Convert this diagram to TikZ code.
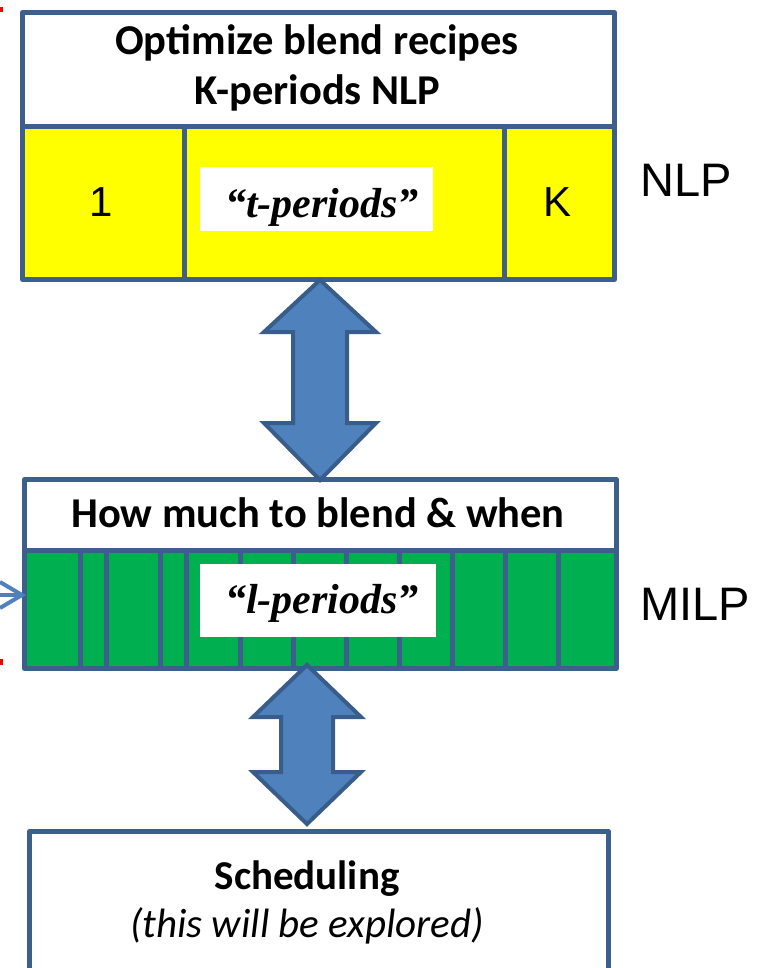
\documentclass[tikz,border=0pt]{standalone}
\usepackage{fontspec}
\setmainfont{Carlito}
\newfontfamily\arialf{Liberation Sans}
\newfontfamily\timesf{Liberation Serif}
\usetikzlibrary{arrows.meta,calc}
\definecolor{bord}{HTML}{3C5F8C}
\definecolor{afill}{HTML}{4F81BD}
\definecolor{aline}{HTML}{385D8A}
\definecolor{ylw}{HTML}{FFFF00}
\definecolor{grn}{HTML}{00B050}
\begin{document}
\begin{tikzpicture}[x=1pt,y=1pt,
  boxline/.style={draw=bord,line width=5pt,line join=round},
  bigarrow/.style={draw=aline,fill=afill,line width=4pt,line join=miter},
  hdr/.style={font=\fontsize{42.5}{50}\selectfont\bfseries,anchor=base,inner sep=0pt},
  arl/.style={font=\arialf\fontsize{42}{48}\selectfont,anchor=base,inner sep=0pt},
  side/.style={font=\arialf\fontsize{47}{52}\selectfont,anchor=base west,inner sep=0pt},
  tlabel/.style={fill=white,inner sep=0pt},
  tper/.style={font=\timesf\fontsize{42}{48}\selectfont\bfseries\itshape,anchor=base,inner sep=0pt}]
\useasboundingbox (0,0) rectangle (766,-968);
% ---------- top box (NLP)
\node[boxline,fill=white,minimum width=592,minimum height=114,inner sep=0pt,anchor=north west] (tophead) at (20,-10) {};
\node[boxline,fill=ylw,minimum width=592,minimum height=153,inner sep=0pt,anchor=north west] (topstrip) at (20,-124) {};
\draw[boxline] (184,-124) -- (184,-277);
\draw[boxline] (504,-124) -- (504,-277);
\node[hdr] (t1a) at (317,-55) {Optimize blend recipes};
\node[hdr] (t1b) at (317,-105) {K-periods NLP};
\node[arl] (one) at (101,-217) {1};
\node[arl] (kk) at (557,-217) {K};
\node[tlabel,minimum width=233,minimum height=64] (tbox) at (316,-199) {};
\node[tper] (tt) at (322,-218) {“t-periods”};
\node[side] (nlp) at (640,-197) {NLP};
% ---------- middle box (MILP)
\node[boxline,fill=white,minimum width=592,minimum height=71,inner sep=0pt,anchor=north west] (midhead) at (22,-477) {};
\node[boxline,fill=grn,minimum width=592,minimum height=118,inner sep=0pt,anchor=north west] (midstrip) at (22,-548) {};
\foreach \xx in {80,106,160,186,240,293,346,399,452,505,558}
  \draw[boxline] (\xx,-548) -- (\xx,-666);
\node[hdr] (t2) at (318,-527) {How much to blend \& when};
\node[tlabel,minimum width=236,minimum height=73] (lbox) at (318,-600) {};
\node[tper] (ll) at (322,-613) {“l-periods”};
\node[side] (milp) at (640,-620) {MILP};
% ---------- bottom box
\node[boxline,fill=white,minimum width=579,minimum height=160,inner sep=0pt,anchor=north west] (sched) at (27,-829) {};
\node[font=\fontsize{41}{48}\selectfont\bfseries,anchor=base,inner sep=0pt] (s1) at (307,-889) {Scheduling};
\node[font=\fontsize{41}{48}\selectfont\itshape,anchor=base,inner sep=0pt] (s2) at (307,-937) {(this will be explored)};
% ---------- double arrows
\draw[bigarrow] (320,-280) -- (376,-332) -- (347,-332) -- (347,-423) -- (376,-423)
  -- (320,-480) -- (264,-423) -- (293,-423) -- (293,-332) -- (264,-332) -- cycle;
\draw[bigarrow] (307,-665) -- (361,-717) -- (333,-717) -- (333,-772) -- (361,-772)
  -- (307,-824) -- (253,-772) -- (281,-772) -- (281,-717) -- (253,-717) -- cycle;
% ---------- left input arrow and red marks
\coordinate (lin) at (-4,-595);
\coordinate (ltip) at (lin -| midstrip.west);
\draw[afill,line width=4pt] (lin) -- (ltip);
\draw[afill,line width=4pt,line join=miter] ($(ltip)+(-22,13)$) -- (ltip) -- ($(ltip)+(-22,-13)$);
\fill[red] (0,-7) rectangle (3,-12);
\fill[red] (0,-659) rectangle (3,-665);
\end{tikzpicture}
\end{document}
